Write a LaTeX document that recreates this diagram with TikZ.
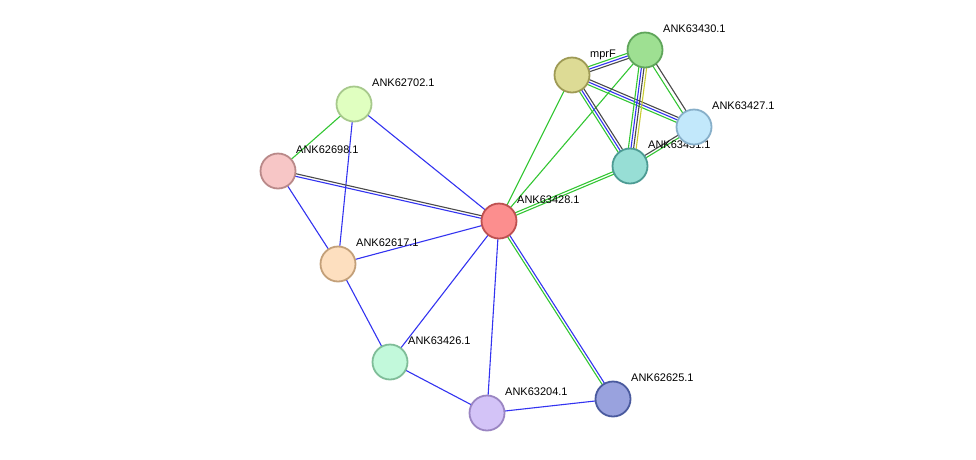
\documentclass[tikz,border=0pt]{standalone}
\usepackage{fontspec}
\setmainfont{Liberation Sans}
\usetikzlibrary{calc}
\definecolor{eg}{HTML}{33C633}
\definecolor{eb}{HTML}{3333F0}
\definecolor{ek}{HTML}{4A4A4A}
\definecolor{ey}{HTML}{C8CC30}
\tikzset{
  prot/.style={circle, draw, line width=1.8pt, minimum size=35pt, inner sep=0pt},
  lbl/.style={anchor=base west, font=\fontsize{11}{13}\selectfont, inner sep=0pt},
  ed/.style={line width=1.1pt}
}
% parallel edge between two coordinates, shifted sideways by #3
\newcommand\sedge[4]{\draw[ed,#4] ($(#1)!#3!90:(#2)$) -- ($(#2)!#3!-90:(#1)$);}
\begin{document}
\begin{tikzpicture}[x=1pt,y=-1pt]
\useasboundingbox (0,0) rectangle (976,459);
\coordinate (c28) at (499,221);
\coordinate (cmp) at (572,75);
\coordinate (c30) at (645,50);
\coordinate (c27) at (694,127);
\coordinate (c31) at (630,166);
\coordinate (c02) at (354,104);
\coordinate (c98) at (278,171);
\coordinate (c17) at (338,264);
\coordinate (c26) at (390,362);
\coordinate (c04) at (487,413);
\coordinate (c25) at (613,399);
% edges
\sedge{c02}{c98}{0pt}{eg}
\sedge{c02}{c28}{0pt}{eb}
\sedge{c02}{c17}{0pt}{eb}
\sedge{c98}{c28}{1.3pt}{ek}
\sedge{c98}{c28}{-1.3pt}{eb}
\sedge{c98}{c17}{0pt}{eb}
\sedge{c17}{c28}{0pt}{eb}
\sedge{c17}{c26}{0pt}{eb}
\sedge{c26}{c28}{0pt}{eb}
\sedge{c26}{c04}{0pt}{eb}
\sedge{c04}{c28}{0pt}{eb}
\sedge{c04}{c25}{0pt}{eb}
\sedge{c25}{c28}{1.3pt}{eg}
\sedge{c25}{c28}{-1.3pt}{eb}
\sedge{c28}{cmp}{0pt}{eg}
\sedge{c28}{c30}{0pt}{eg}
\sedge{c28}{c31}{1.3pt}{eg}
\sedge{c28}{c31}{-1.3pt}{eg}
\sedge{cmp}{c30}{2.6pt}{eg}
\sedge{cmp}{c30}{0pt}{eb}
\sedge{cmp}{c30}{-2.6pt}{ek}
\sedge{cmp}{c27}{2.6pt}{ek}
\sedge{cmp}{c27}{0pt}{eb}
\sedge{cmp}{c27}{-2.6pt}{eg}
\sedge{cmp}{c31}{2.6pt}{ek}
\sedge{cmp}{c31}{0pt}{eb}
\sedge{cmp}{c31}{-2.6pt}{eg}
\sedge{c30}{c31}{3.9pt}{ey}
\sedge{c30}{c31}{1.3pt}{ek}
\sedge{c30}{c31}{-1.3pt}{eb}
\sedge{c30}{c31}{-3.9pt}{eg}
\sedge{c30}{c27}{2pt}{ek}
\sedge{c30}{c27}{-2pt}{eg}
\sedge{c27}{c31}{1.3pt}{eg}
\sedge{c27}{c31}{-1.3pt}{ek}
% hidden label first
\node[lbl] (l31) at ($(c31)+(18,-18)$) {ANK63431.1};
% nodes
\node[prot, fill={rgb,255:red,252;green,142;blue,142}, draw={rgb,255:red,190;green,80;blue,80}] (n28) at (c28) {};
\node[prot, fill={rgb,255:red,221;green,219;blue,149}, draw={rgb,255:red,158;green,154;blue,85}] (nmp) at (cmp) {};
\node[prot, fill={rgb,255:red,158;green,224;blue,146}, draw={rgb,255:red,95;green,165;blue,90}] (n30) at (c30) {};
\node[prot, fill={rgb,255:red,151;green,222;blue,213}, draw={rgb,255:red,76;green,155;blue,147}] (n31) at (c31) {};
\node[prot, fill={rgb,255:red,194;green,232;blue,251}, draw={rgb,255:red,135;green,175;blue,201}] (n27) at (c27) {};
\node[prot, fill={rgb,255:red,224;green,255;blue,192}, draw={rgb,255:red,167;green,201;blue,140}] (n02) at (c02) {};
\node[prot, fill={rgb,255:red,247;green,198;blue,198}, draw={rgb,255:red,185;green,137;blue,137}] (n98) at (c98) {};
\node[prot, fill={rgb,255:red,253;green,223;blue,191}, draw={rgb,255:red,195;green,160;blue,121}] (n17) at (c17) {};
\node[prot, fill={rgb,255:red,194;green,249;blue,219}, draw={rgb,255:red,127;green,189;blue,152}] (n26) at (c26) {};
\node[prot, fill={rgb,255:red,211;green,195;blue,247}, draw={rgb,255:red,154;green,133;blue,194}] (n04) at (c04) {};
\node[prot, fill={rgb,255:red,153;green,162;blue,222}, draw={rgb,255:red,74;green,90;blue,158}] (n25) at (c25) {};
% labels
\node[lbl] (l28) at ($(c28)+(18,-18)$) {ANK63428.1};
\node[lbl] (lmp) at ($(cmp)+(18,-18)$) {mprF};
\node[lbl] (l30) at ($(c30)+(18,-18)$) {ANK63430.1};
\node[lbl] (l27) at ($(c27)+(18,-18)$) {ANK63427.1};
\node[lbl] (l02) at ($(c02)+(18,-18)$) {ANK62702.1};
\node[lbl] (l98) at ($(c98)+(18,-18)$) {ANK62698.1};
\node[lbl] (l17) at ($(c17)+(18,-18)$) {ANK62617.1};
\node[lbl] (l26) at ($(c26)+(18,-18)$) {ANK63426.1};
\node[lbl] (l04) at ($(c04)+(18,-18)$) {ANK63204.1};
\node[lbl] (l25) at ($(c25)+(18,-18)$) {ANK62625.1};
\end{tikzpicture}
\end{document}
